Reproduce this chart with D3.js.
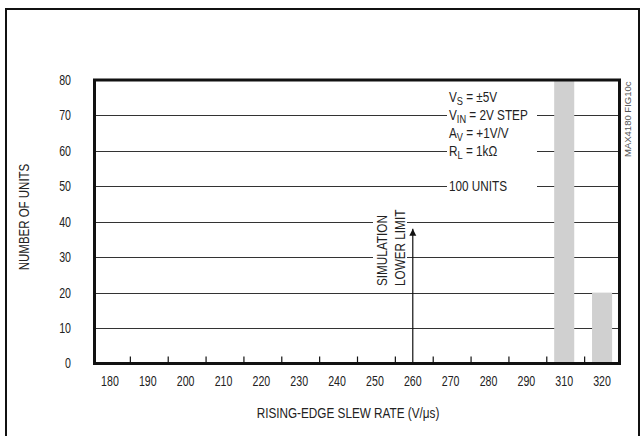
<!DOCTYPE html>
<html>
<head>
<meta charset="utf-8">
<script src="https://cdn.jsdelivr.net/npm/d3@7"></script>
<style>
  body { margin: 0; background: #fff; }
  svg text { font-family: "Liberation Sans", Arial, sans-serif; fill: #222; }
</style>
</head>
<body>
<svg id="chart" width="644" height="436"></svg>
<script>
// slew rate bins (300 is not labelled in the original)
var categories = ["180", "190", "200", "210", "220", "230", "240", "250", "260", "270", "280", "290", "310", "320"];
var counts = [0, 0, 0, 0, 0, 0, 0, 0, 0, 0, 0, 0, 80, 20];
var yTicks = [0, 10, 20, 30, 40, 50, 60, 70, 80];
var conditions = [
  ["V", "S", " = \u00b15V"],
  ["V", "IN", " = 2V STEP"],
  ["A", "V", " = +1V/V"],
  ["R", "L", " = 1k\u03a9"]
];
var unitsNote = "100 UNITS";
var limitValue = "260";   // simulation lower limit bin
var limitTop = 38;        // arrow tip, in units

var svg = d3.select('#chart');
var plot = {left: 94.5, right: 619.5, top: 80, bottom: 363.5};
var NARROW = 0.84;   // fake a condensed face
var DIGITS = 0.76;

var x = d3.scaleBand()
    .domain(categories)
    .range([91, 621])
    .paddingInner(0.47)
    .paddingOuter(0.235);

var y = d3.scaleLinear()
    .domain([0, 80])
    .range([plot.bottom, plot.top]);

/*
 * text squeezed horizontally around its anchor point
 */
function label(parent, px, py, str, opt){
  opt = opt || {};
  var t = parent.append('text')
      .attr('transform', 'translate(' + px + ',' + py + ')' +
            (opt.rotate ? ' rotate(' + opt.rotate + ')' : '') +
            ' scale(' + (opt.sx || NARROW) + ',1)')
      .attr('font-size', opt.size || 14)
      .attr('text-anchor', opt.anchor || 'start');
  if (opt.dy) t.attr('dy', opt.dy);
  if (str != null) t.text(str);
  return t;
}

// outer frame
svg.append('rect')
    .attr('x', 6).attr('y', 9)
    .attr('width', 633).attr('height', 440)
    .attr('fill', 'none').attr('stroke', '#111').attr('stroke-width', 2);

// grid lines
svg.append('g').selectAll('line')
    .data(yTicks.filter(function(d){ return d > 0 && d < 80; }))
    .enter().append('line')
    .attr('x1', plot.left).attr('x2', plot.right)
    .attr('y1', function(d){ return Math.round(y(d)) + 0.5; })
    .attr('y2', function(d){ return Math.round(y(d)) + 0.5; })
    .attr('stroke', '#333').attr('stroke-width', 1);

// white box behind the conditions block
svg.append('rect')
    .attr('x', 447).attr('y', 88)
    .attr('width', 90).attr('height', 106)
    .attr('fill', '#fff');

// bars
svg.append('g').selectAll('rect')
    .data(counts)
    .enter().append('rect')
    .attr('x', function(d, i){ return x(categories[i]); })
    .attr('y', function(d){ return y(d); })
    .attr('width', x.bandwidth())
    .attr('height', function(d){ return plot.bottom - y(d); })
    .attr('fill', '#d0d0d0');

// conditions text
var cond = svg.append('g');
conditions.forEach(function(c, i){
  var t = label(cond, 449, 102 + i * 18, null);
  t.append('tspan').text(c[0]);
  t.append('tspan').attr('font-size', 11).attr('dy', 3).text(c[1]);
  t.append('tspan').attr('dy', -3).text(c[2]);
});
label(cond, 449, 191, unitsNote);

// simulation lower limit arrow
var ax = x(limitValue) + x.bandwidth() / 2;
svg.append('defs').append('marker')
    .attr('id', 'arrow')
    .attr('viewBox', '0 0 10 10')
    .attr('refX', 10).attr('refY', 5)
    .attr('markerWidth', 7).attr('markerHeight', 10)
    .attr('markerUnits', 'userSpaceOnUse')
    .attr('orient', 'auto')
    .append('path')
    .attr('d', 'M0,0 L10,5 L0,10 Z')
    .attr('fill', '#111');

svg.append('line')
    .attr('x1', ax).attr('x2', ax)
    .attr('y1', plot.bottom).attr('y2', y(limitTop))
    .attr('stroke', '#111').attr('stroke-width', 1.2)
    .attr('marker-end', 'url(#arrow)');

svg.append('rect')
    .attr('x', 373).attr('y', 210)
    .attr('width', 34).attr('height', 78)
    .attr('fill', '#fff');

var lim = svg.append('g');
label(lim, 387, 286, 'SIMULATION', {rotate: -90});
label(lim, 405, 286, 'LOWER LIMIT', {rotate: -90});

// plot frame
svg.append('rect')
    .attr('x', plot.left).attr('y', plot.top)
    .attr('width', plot.right - plot.left)
    .attr('height', plot.bottom - plot.top)
    .attr('fill', 'none').attr('stroke', '#111').attr('stroke-width', 3);

// x ticks between bins
svg.append('g').selectAll('line')
    .data(categories.slice(1))
    .enter().append('line')
    .attr('x1', function(d){ return x(d) - x.step() * x.paddingInner() / 2 + 1.5; })
    .attr('x2', function(d){ return x(d) - x.step() * x.paddingInner() / 2 + 1.5; })
    .attr('y1', plot.bottom).attr('y2', plot.bottom - 7)
    .attr('stroke', '#111').attr('stroke-width', 1.2);

// x labels
var xl = svg.append('g');
categories.forEach(function(d){
  label(xl, x(d) + x.bandwidth() / 2, 386, d, {anchor: 'middle', sx: DIGITS});
});

// y labels
var yl = svg.append('g');
yTicks.forEach(function(d){
  label(yl, 71, y(d), d, {anchor: 'end', sx: DIGITS, dy: '0.35em'});
});

// axis titles
label(svg, 348, 418, 'RISING-EDGE SLEW RATE (V/\u03bcs)', {anchor: 'middle'});
label(svg, 29, 217, 'NUMBER OF UNITS', {anchor: 'middle', rotate: -90, sx: 0.82});

// figure id
label(svg, 631, 157, 'MAX4180 FIG10c', {rotate: -90, size: 9.5, sx: 1})
    .style('fill', '#555');
</script>
</body>
</html>
